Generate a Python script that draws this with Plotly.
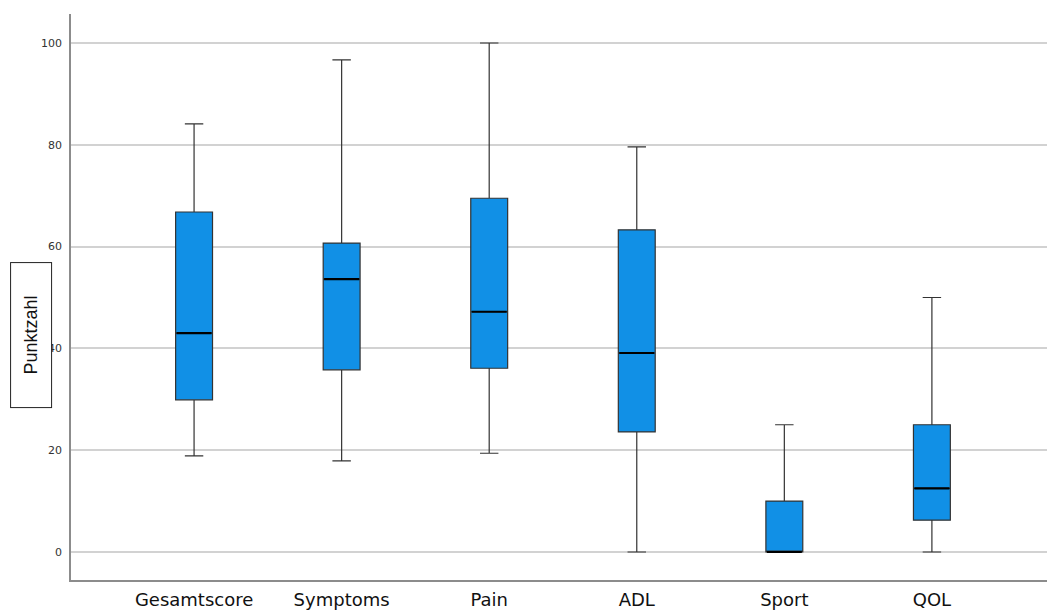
import plotly.graph_objects as go

categories = ["Gesamtscore", "Symptoms", "Pain", "ADL", "Sport", "QOL"]
lower_whisker = [18.9, 17.9, 19.4, 0.0, 0.0, 0.0]
q1_values = [29.9, 35.8, 36.1, 23.6, 0.0, 6.25]
median_values = [43.0, 53.6, 47.2, 39.1, 0.0, 12.5]
q3_values = [66.8, 60.7, 69.5, 63.3, 10.0, 25.0]
upper_whisker = [84.1, 96.7, 100.0, 79.6, 25.0, 50.0]
y_ticks = [0, 20, 40, 60, 80, 100]

fig = go.Figure()
fig.add_trace(go.Box(
    x=categories,
    q1=q1_values,
    median=median_values,
    q3=q3_values,
    lowerfence=lower_whisker,
    upperfence=upper_whisker,
    fillcolor="#1190e6",
    line=dict(color="#333333", width=1.2),
    width=0.25,
    whiskerwidth=0.5,
    boxpoints=False,
    hoverinfo="skip",
    showlegend=False,
))
# thicker black median lines, as in the reference
fig.add_trace(go.Scatter(
    x=categories,
    y=median_values,
    mode="markers",
    marker=dict(symbol="line-ew", size=25, line=dict(color="black", width=2.2)),
    hoverinfo="skip",
    showlegend=False,
))

fig.update_layout(
    width=1047, height=614,
    margin=dict(l=71, r=0, t=14, b=34),
    paper_bgcolor="white", plot_bgcolor="white",
    font=dict(family="DejaVu Sans", color="#222"),
    xaxis=dict(
        range=[-0.834, 5.78],
        showgrid=False,
        showline=True, linecolor="#8c8c8c", linewidth=1.5,
        ticks="outside", ticklen=3, tickcolor="rgba(0,0,0,0)",
        tickfont=dict(family="DejaVu Sans", size=18, color="#111"),
        zeroline=False,
    ),
    yaxis=dict(
        range=[-5.5, 105.7],
        tickvals=y_ticks,
        showgrid=True, gridcolor="#d2d2d2", gridwidth=1.5,
        showline=True, linecolor="#8c8c8c", linewidth=1.5,
        ticks="outside", ticklen=5, tickcolor="rgba(0,0,0,0)",
        tickfont=dict(family="DejaVu Sans", size=11, color="#333"),
        zeroline=False,
    ),
    annotations=[dict(
        text="Punktzahl",
        xref="paper", yref="paper",
        x=-0.0409, y=(580 - 335) / 566,
        xanchor="center", yanchor="middle",
        textangle=-90,
        showarrow=False,
        font=dict(family="Liberation Sans", size=18, color="#111"),
        bgcolor="white",
        bordercolor="#222", borderwidth=1, borderpad=1,
        width=142, height=38,
    )],
)

fig.write_html("out.html", config={"displayModeBar": False},
               post_script="document.body.style.margin='0';")
